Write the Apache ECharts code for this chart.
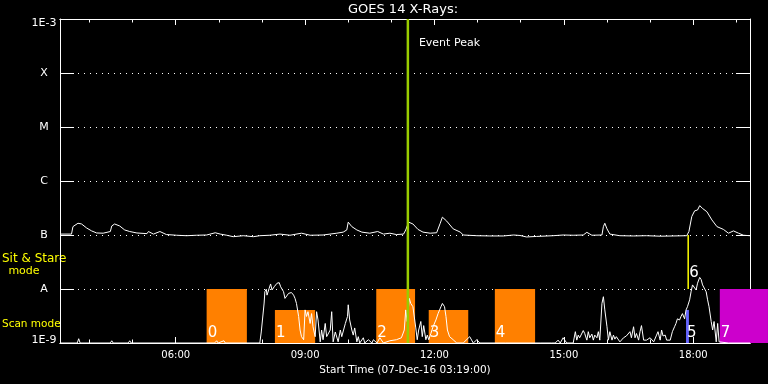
<!DOCTYPE html>
<html><head><meta charset="utf-8">
<script src="https://cdn.jsdelivr.net/npm/echarts@6/dist/echarts.min.js"></script>
<style>html,body{margin:0;padding:0;background:#000}#c{width:768px;height:384px}</style>
</head><body><div id="c"></div>
<script>
// ---- data ----
const startClock = '03:19';
const spanHours = 16;
const majorHours = [6, 9, 12, 15, 18];
const minorHours = [4, 5, 6, 7, 8, 9, 10, 11, 12, 13, 14, 15, 16, 17, 18, 19];
const levelNames = { '-9': '1E-9', '-8': 'A', '-7': 'B', '-6': 'C', '-5': 'M', '-4': 'X', '-3': '1E-3' };

// long channel (minutes after start, W/m^2)
const longMin = [0, 16, 18, 25, 30, 37, 44, 51, 60, 70, 72, 76, 83, 90, 97, 107, 121, 123, 130, 139, 148, 162, 176, 190, 204, 216, 223, 232, 241, 255, 269, 278, 292, 306,
  320, 336, 348, 366, 385, 394, 399, 401, 406, 413, 420, 431, 442, 450, 459, 468, 478, 481, 485, 491, 498, 505, 515, 524, 529, 532, 538, 547, 557, 561, 580, 598, 617, 631,
  640, 649, 663, 686, 700, 714, 728, 733, 740, 754, 756, 758, 761, 765, 779, 798, 816, 835, 853, 872, 875, 879, 883, 887, 890, 894, 900, 907, 914, 923, 930, 937, 944, 951, 960];
const longVal = [1.04e-7, 1.04e-7, 1.43e-7, 1.65e-7, 1.6e-7, 1.35e-7, 1.19e-7, 1.09e-7, 1.08e-7, 1.16e-7, 1.47e-7, 1.6e-7, 1.47e-7, 1.24e-7, 1.16e-7, 1.09e-7, 1.06e-7, 1.16e-7, 1.04e-7, 1.16e-7, 1.02e-7, 9.9e-8, 9.7e-8, 9.9e-8, 1.0e-7, 1.1e-7, 1.04e-7, 9.9e-8, 9.3e-8, 9.7e-8, 9.3e-8, 9.7e-8, 9.9e-8, 1.04e-7,
  9.9e-8, 1.08e-7, 9.9e-8, 1.0e-7, 1.08e-7, 1.13e-7, 1.24e-7, 1.73e-7, 1.43e-7, 1.24e-7, 1.13e-7, 1.08e-7, 1.16e-7, 1.04e-7, 1.08e-7, 1.02e-7, 1.04e-7, 1.24e-7, 1.73e-7, 1.6e-7, 1.27e-7, 1.13e-7, 1.08e-7, 1.1e-7, 1.65e-7, 2.14e-7, 1.81e-7, 1.3e-7, 1.13e-7, 1.0e-7, 9.7e-8, 9.6e-8, 9.6e-8, 1.0e-7,
  9.8e-8, 9.2e-8, 9.4e-8, 9.7e-8, 1.0e-7, 9.9e-8, 1.0e-7, 1.12e-7, 9.9e-8, 1.0e-7, 1.43e-7, 1.65e-7, 1.3e-7, 1.04e-7, 9.7e-8, 9.6e-8, 9.7e-8, 9.5e-8, 9.6e-8, 9.7e-8, 1.16e-7, 2.2e-7, 2.8e-7, 2.9e-7, 3.5e-7, 3.1e-7, 2.7e-7, 1.9e-7, 1.43e-7, 1.27e-7, 1.08e-7, 1.19e-7, 1.08e-7, 9.9e-8, 9.7e-8];

// short channel
const shortMin = [0, 24, 26, 28, 70, 72, 74, 95, 97, 99, 215, 218, 220, 228, 230, 278,
  280, 282, 284, 285, 287, 288, 291, 293, 295, 298, 300, 302, 305, 307, 309, 311, 313, 315, 318, 320, 322, 325, 327, 329, 332, 334, 336, 339, 341, 343, 345, 348, 350, 352, 355, 357, 359, 362, 364, 366, 369, 371, 376, 378, 380, 383, 387, 390, 392, 397, 400, 401, 403, 406, 408, 410, 413, 415, 417, 422, 424, 429, 434, 436, 441, 445, 450, 459, 468, 475, 479, 481, 483, 486, 488, 491, 492, 495, 497, 499, 502, 504, 506, 509, 511, 513, 516, 519, 523, 526, 530, 532, 535, 537, 539, 542, 544, 547, 552, 561, 570, 575, 580, 584, 620,
  668, 684, 686, 689, 693, 696, 700, 705, 714, 717, 719, 721, 723, 728, 730, 733, 735, 737, 740, 742, 744, 747, 749, 751, 754, 756, 758, 761, 763, 765, 768, 770, 772, 774, 779, 784, 788, 793, 795, 798, 800, 802, 805, 807, 809, 812, 816, 821, 826, 830, 832, 835, 837, 839, 842, 844, 849, 852, 855, 857, 859, 862, 864, 866, 869, 871, 873, 876, 878, 880, 882, 885, 887, 890, 892, 894, 896, 899, 901, 903, 906, 908, 910, 913, 915, 917, 930, 960];
const shortVal = [1e-9, 1e-9, 1.2e-9, 1e-9, 1e-9, 1.1e-9, 1e-9, 1e-9, 1.1e-9, 1e-9, 1e-9, 1.1e-9, 1e-9, 1.1e-9, 1e-9, 1e-9,
  1.6e-9, 1.5e-9, 5.5e-9, 8.9e-9, 9.9e-9, 7.7e-9, 1.03e-8, 1.24e-8, 9.6e-9, 1.1e-8, 1.19e-8, 1.28e-8, 1.31e-8, 1.1e-8, 1.19e-8, 8.9e-9, 6.7e-9, 7.2e-9, 8.3e-9, 8.0e-9, 8.6e-9, 7.7e-9, 6.7e-9, 5.4e-9, 3.1e-9, 1.74e-9, 1.31e-9, 1.15e-9, 4.1e-9, 3.1e-9, 3.8e-9, 2.3e-9, 3.5e-9, 2.0e-9, 1.31e-9, 3.8e-9, 2.67e-9, 1.05e-9, 1.74e-9, 1.15e-9, 2.3e-9, 1.31e-9, 1.74e-9, 3.8e-9, 1.05e-9, 1.6e-9, 1.05e-9, 1.74e-9, 1.31e-9, 2.3e-9, 3.1e-9, 5.1e-9, 2.67e-9, 1.74e-9, 1.4e-9, 1.9e-9, 1.05e-9, 1.31e-9, 1.0e-9, 1.25e-9, 1.0e-9, 1.15e-9, 1.0e-9, 1.15e-9, 1.0e-9, 1.25e-9, 1.0e-9, 1.1e-9, 1.15e-9, 1.25e-9, 1.74e-9, 4.1e-9, 2.5e-9, 6.7e-9, 5.4e-9, 4.7e-9, 5.1e-9, 1.9e-9, 1.15e-9, 1.74e-9, 2.5e-9, 1.31e-9, 2.1e-9, 1.15e-9, 1.4e-9, 1.15e-9, 1.5e-9, 2.0e-9, 2.67e-9, 3.5e-9, 4.7e-9, 5.4e-9, 4.7e-9, 3.1e-9, 1.74e-9, 1.31e-9, 1.4e-9, 1.15e-9, 1.0e-9, 1.0e-9, 1.31e-9, 1.0e-9, 1.15e-9, 1.0e-9, 1.0e-9,
  1e-9, 1e-9, 1.07e-9, 1e-9, 1.13e-9, 1e-9, 1.25e-9, 1e-9, 1e-9, 1.62e-9, 1.13e-9, 1.4e-9, 1.25e-9, 1.7e-9, 1.5e-9, 1.13e-9, 1.62e-9, 1.25e-9, 1.46e-9, 1.13e-9, 1.4e-9, 1.25e-9, 1.62e-9, 1.13e-9, 5.4e-9, 7.2e-9, 4.1e-9, 2.0e-9, 1.13e-9, 1.62e-9, 1.13e-9, 1.4e-9, 1.18e-9, 1.31e-9, 1.05e-9, 1.25e-9, 1.35e-9, 1.62e-9, 1.25e-9, 2.0e-9, 1.25e-9, 1.5e-9, 1.13e-9, 1.62e-9, 2.1e-9, 1.13e-9, 1.13e-9, 1.25e-9, 1.05e-9, 1.4e-9, 1.62e-9, 1.13e-9, 1.74e-9, 1.35e-9, 1.4e-9, 1.13e-9, 1.13e-9, 1.62e-9, 2.0e-9, 2.3e-9, 2.8e-9, 2.67e-9, 3.1e-9, 3.5e-9, 2.8e-9, 4.1e-9, 4.7e-9, 6.3e-9, 8.9e-9, 1.19e-8, 1.1e-8, 9.6e-9, 1.28e-8, 1.64e-8, 1.5e-8, 1.19e-8, 1.1e-8, 8.9e-9, 6.3e-9, 4.7e-9, 2.5e-9, 1.74e-9, 2.5e-9, 1.05e-9, 2.3e-9, 1.05e-9, 1e-9, 1e-9];

// observation blocks
const barNames = ['0', '1', '2', '3', '4', '5', '6', '7'];
const barStart = ['06:43', '08:18', '10:39', '11:52', '13:24', '17:50', '17:53', '18:37'];
const barEnd = ['07:39', '09:14', '11:33', '12:47', '14:20', '17:54', '17:53', '19:44'];
const barLow = [1e-9, 1e-9, 1e-9, 1e-9, 1e-9, 1e-9, 1e-8, 1e-9];
const barHigh = [1e-8, 4.1e-9, 1e-8, 4.1e-9, 1e-8, 4.1e-9, 1e-7, 1e-8];
const barKind = ['scan', 'scan', 'scan', 'scan', 'scan', 'blue', 'stare', 'magenta'];
const eventPeak = '11:23';

// ---- helpers ----
function clockToHours(s) { const p = s.split(':'); return +p[0] + (+p[1]) / 60; }
const startH = clockToHours(startClock);
const minToH = m => startH + m / 60;
const pad = n => (n < 10 ? '0' : '') + n;

const longData = longMin.map((m, i) => [minToH(m), longVal[i]]);
const shortData = shortMin.map((m, i) => [minToH(m), shortVal[i]]);
const barData = barNames.map((n, i) => [clockToHours(barStart[i]), clockToHours(barEnd[i]), barLow[i], barHigh[i]]);

const kindColor = { scan: '#ff8000', blue: '#6666ff', stare: '#ffff00', magenta: '#cc00cc' };
const FONT = 'DejaVu Sans';

const xBase = { type: 'value', min: startH, max: startH + spanHours, gridIndex: 0,
  axisLine: { show: true, lineStyle: { color: '#fff', width: 1 } }, splitLine: { show: false } };

const chart = echarts.init(document.getElementById('c'), null, { renderer: 'canvas' });
chart.setOption({
  backgroundColor: '#000',
  animation: false,
  grid: { left: 60, right: 18, top: 19, bottom: 41 },
  xAxis: [
    Object.assign({}, xBase, {
      position: 'bottom',
      name: 'Start Time (07-Dec-16 ' + startClock + ':00)', nameLocation: 'middle', nameGap: 19,
      nameTextStyle: { color: '#fff', fontFamily: FONT, fontSize: 10.5 },
      axisTick: { show: true, inside: true, length: 6, customValues: majorHours, lineStyle: { color: '#fff' } },
      axisLabel: { show: true, customValues: majorHours, margin: 7, color: '#fff', fontFamily: FONT, fontSize: 10,
        formatter: v => pad(Math.round(v)) + ':00' }
    }),
    Object.assign({}, xBase, { position: 'bottom',
      axisTick: { show: true, inside: true, length: 3.5, customValues: minorHours, lineStyle: { color: '#fff' } },
      axisLabel: { show: false } }),
    Object.assign({}, xBase, { position: 'top',
      axisTick: { show: true, inside: true, length: 6, customValues: majorHours, lineStyle: { color: '#fff' } },
      axisLabel: { show: false } }),
    Object.assign({}, xBase, { position: 'top',
      axisTick: { show: true, inside: true, length: 3.5, customValues: minorHours, lineStyle: { color: '#fff' } },
      axisLabel: { show: false } })
  ],
  yAxis: [
    { type: 'log', logBase: 10, min: 1e-9, max: 1e-3, position: 'left',
      axisLine: { show: true, lineStyle: { color: '#fff' } },
      axisTick: { show: true, inside: true, length: 14, lineStyle: { color: '#fff' } },
      splitLine: { show: true, lineStyle: { color: '#fff', width: 1, type: [1, 5] } },
      axisLabel: { show: true, color: '#fff', fontFamily: FONT, fontSize: 11, align: 'center', margin: 16,
        formatter: v => { const e = Math.round(Math.log10(v)); const t = levelNames[e];
          if (e === -3) return '{t|' + t + '}'; if (e === -9) return '{b|' + t + '}'; return t; },
        rich: { t: { padding: [8, 0, 0, 0], color: '#fff', fontFamily: FONT, fontSize: 11 },
                b: { padding: [0, 0, 6, 0], color: '#fff', fontFamily: FONT, fontSize: 11 } } } },
    { type: 'log', logBase: 10, min: 1e-9, max: 1e-3, position: 'right',
      axisLine: { show: true, lineStyle: { color: '#fff' } },
      axisTick: { show: true, inside: true, length: 14, lineStyle: { color: '#fff' } },
      splitLine: { show: false }, axisLabel: { show: false } }
  ],
  graphic: [
    { type: 'text', x: 403, y: 10, style: { text: 'GOES 14 X-Rays:', fill: '#fff', font: '13px ' + FONT, align: 'center', verticalAlign: 'middle' } },
    { type: 'text', x: 2, y: 259, style: { text: 'Sit & Stare', fill: '#ffff00', font: '12px ' + FONT, align: 'left', verticalAlign: 'middle' } },
    { type: 'text', x: 24, y: 271, style: { text: 'mode', fill: '#ffff00', font: '11px ' + FONT, align: 'center', verticalAlign: 'middle' } },
    { type: 'text', x: 2, y: 324, style: { text: 'Scan mode', fill: '#ffff00', font: '10.5px ' + FONT, align: 'left', verticalAlign: 'middle' } }
  ],
  series: [
    { type: 'custom', name: 'blocks', xAxisIndex: 0, yAxisIndex: 0, clip: false, z: 1,
      data: barData, encode: { x: [0, 1], y: [2, 3] },
      renderItem: (params, api) => {
        const i = params.dataIndex;
        const p0 = api.coord([api.value(0), api.value(2)]);
        const p1 = api.coord([api.value(1), api.value(3)]);
        const kind = barKind[i];
        const ch = [];
        if (kind === 'stare') {
          ch.push({ type: 'line', shape: { x1: p0[0], y1: p0[1], x2: p0[0], y2: p1[1] }, style: { stroke: kindColor[kind], lineWidth: 1.5 } });
          ch.push({ type: 'text', style: { text: barNames[i], x: p0[0] + 1, y: p0[1] - 8, fill: '#fff', font: '15px ' + FONT, align: 'left', verticalAlign: 'bottom' } });
        } else {
          ch.push({ type: 'rect', shape: { x: p0[0], y: p1[1], width: p1[0] - p0[0], height: p0[1] - p1[1] }, style: { fill: kindColor[kind] } });
          ch.push({ type: 'text', style: { text: barNames[i], x: p0[0] + 1, y: p0[1] - 2, fill: '#fff', font: '15px ' + FONT, align: 'left', verticalAlign: 'bottom' } });
        }
        return { type: 'group', children: ch };
      } },
    { type: 'line', name: 'long', data: longData, xAxisIndex: 0, yAxisIndex: 0, showSymbol: false, symbol: 'none', z: 3,
      lineStyle: { color: '#fff', width: 1 }, clip: true },
    { type: 'line', name: 'short', data: shortData, xAxisIndex: 0, yAxisIndex: 0, showSymbol: false, symbol: 'none', z: 3,
      lineStyle: { color: '#fff', width: 1 }, clip: true },
    { type: 'custom', name: 'event', xAxisIndex: 0, yAxisIndex: 0, clip: false, z: 4,
      data: [[clockToHours(eventPeak)]], encode: { x: 0 },
      renderItem: (params, api) => {
        const top = api.coord([api.value(0), 1e-3]);
        const bot = api.coord([api.value(0), 1e-9]);
        return { type: 'group', children: [
          { type: 'line', shape: { x1: top[0], y1: top[1], x2: bot[0], y2: bot[1] }, style: { stroke: '#99cc00', lineWidth: 2.5 } },
          { type: 'text', style: { text: 'Event Peak', x: top[0] + 11, y: top[1] + 24, fill: '#fff', font: '11px ' + FONT, align: 'left', verticalAlign: 'middle' } }
        ] };
      } }
  ]
});
</script></body></html>
